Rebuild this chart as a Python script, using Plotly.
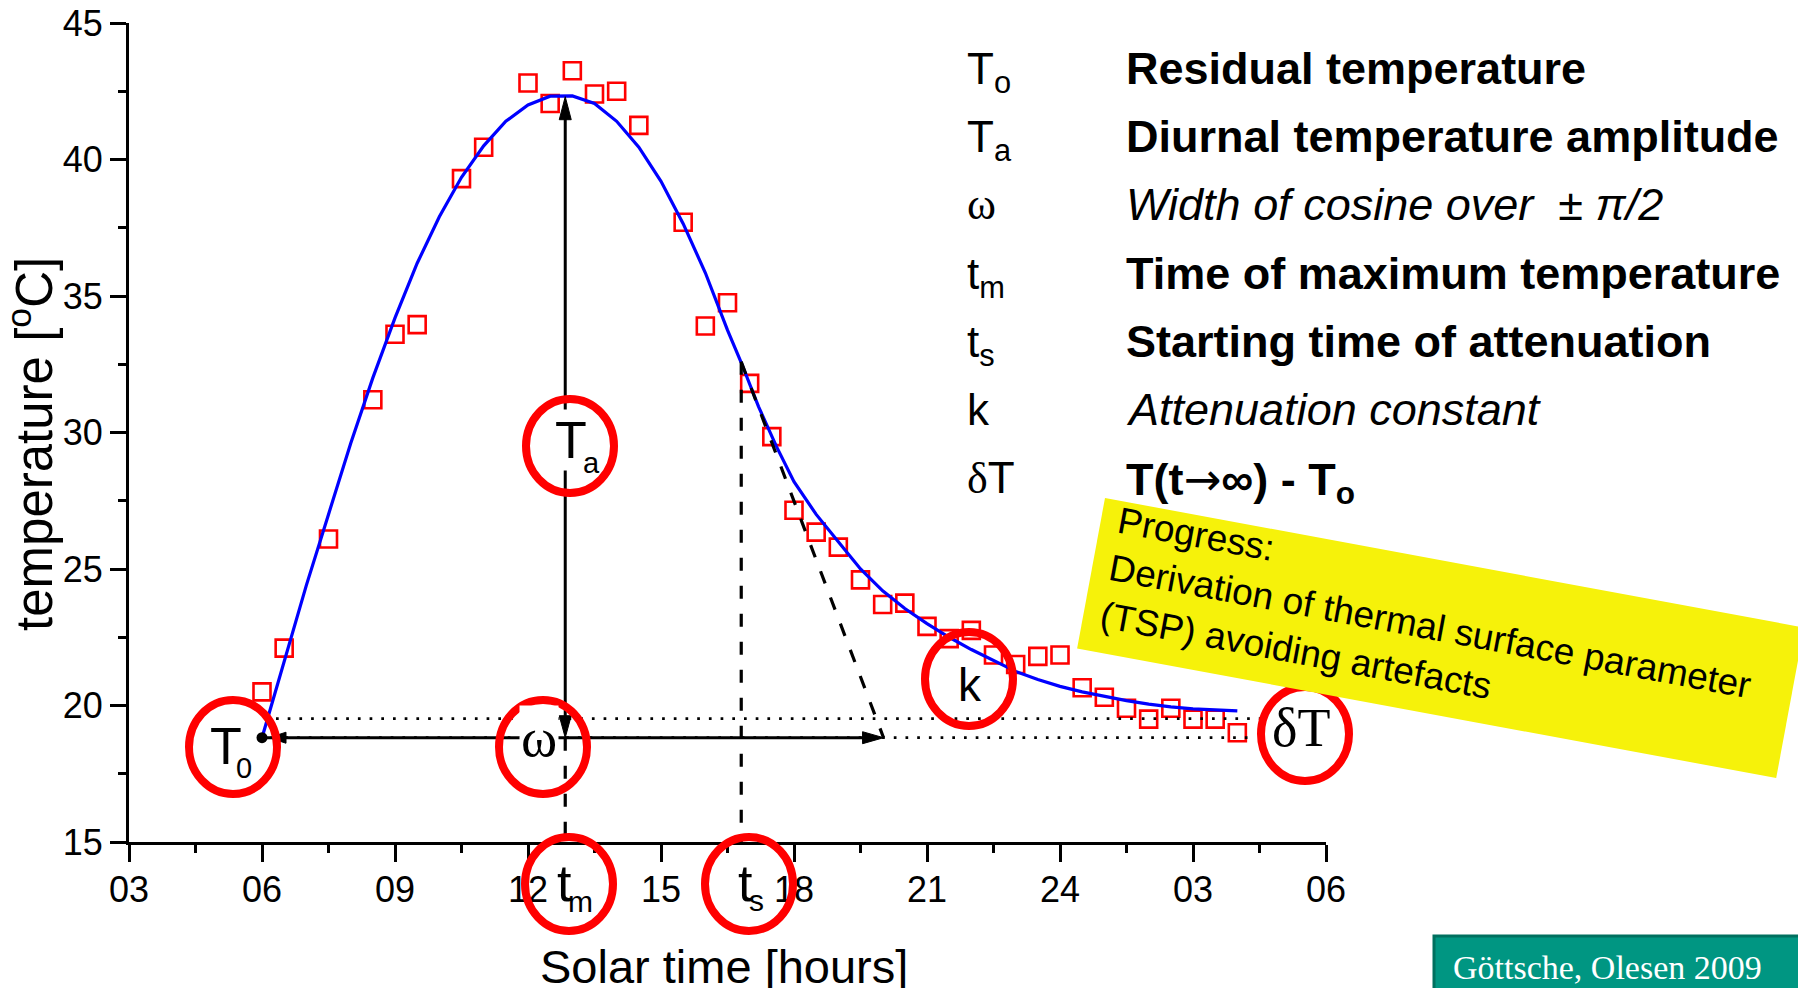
import math
import plotly.graph_objects as go

# ---------------- data ----------------
hours = [6.0, 6.5, 7.5, 8.5, 9.0, 9.5, 10.5, 11.0, 12.0, 12.5, 13.0, 13.5, 14.0, 14.5,
         15.5, 16.0, 16.5, 17.0, 17.5, 18.0, 18.5, 19.0, 19.5, 20.0, 20.5, 21.0, 21.5,
         22.0, 22.5, 23.0, 23.5, 24.0, 24.5, 25.0, 25.5, 26.0, 26.5, 27.0, 27.5, 28.0]
temps = [20.5, 22.1, 26.1, 31.2, 33.6, 33.95, 39.3, 40.45, 42.8, 42.05, 43.25, 42.4, 42.5, 41.25,
         37.7, 33.9, 34.75, 31.8, 29.85, 27.15, 26.35, 25.8, 24.6, 23.7, 23.75, 22.9, 22.45,
         22.75, 21.85, 21.5, 21.8, 21.85, 20.65, 20.3, 19.9, 19.5, 19.9, 19.5, 19.5, 19.0]

fit_hours = [6.0, 6.5, 7.0, 7.5, 8.0, 8.5, 9.0, 9.5, 10.0, 10.5, 11.0, 11.5, 12.0, 12.5,
             13.0, 13.5, 14.0, 14.5, 15.0, 15.5, 16.0, 16.5, 16.8, 17.2, 17.6, 18.0, 18.5,
             19.0, 19.5, 20.0, 20.5, 21.0, 21.5, 22.0, 22.5, 23.0, 23.5, 24.0, 24.5, 25.0,
             25.5, 26.0, 26.5, 27.0, 27.5, 28.0]
fit_temps = [18.82, 21.6, 24.4, 27.0, 29.6, 32.0, 34.2, 36.2, 37.9, 39.35, 40.5, 41.4, 42.0, 42.32,
             42.33, 42.05, 41.4, 40.45, 39.2, 37.65, 35.85, 33.75, 32.6, 30.95, 29.5, 28.2, 27.0,
             26.0, 25.0, 24.2, 23.55, 23.0, 22.5, 22.05, 21.65, 21.25, 20.95, 20.7, 20.5, 20.33,
             20.18, 20.05, 19.95, 19.88, 19.83, 19.8]

x_tick_vals = [3, 6, 9, 12, 15, 18, 21, 24, 27, 30]
x_tick_text = ['03', '06', '09', '12', '15', '18', '21', '24', '03', '06']
x_minor_vals = [4.5, 7.5, 10.5, 13.5, 16.5, 19.5, 22.5, 25.5, 28.5]
y_tick_vals = [15, 20, 25, 30, 35, 40, 45]
y_minor_vals = [17.5, 22.5, 27.5, 32.5, 37.5, 42.5]

# model parameters
T0 = 18.82          # residual temperature level
t_start = 6.0       # start of the cosine
t_max = 12.84       # time of maximum
T_max = 42.3        # maximum of fit
t_s = 16.81         # start of attenuation
T_ts = 32.59        # temperature at t_s
t_tan = 20.02       # end of tangent / omega arrow
dT_level = 19.52    # T(t->inf)
t_dot_hi = 28.58
t_dot_lo = 28.24

legend_symbols = ["T<sub>o</sub>", "T<sub>a</sub>",
                  "<span style='font-family:Liberation Serif'>\u03c9</span>",
                  "t<sub>m</sub>", "t<sub>s</sub>", "k",
                  "<span style='font-family:Liberation Serif'>\u03b4</span>T"]
legend_texts = ["<b>Residual temperature</b>",
                "<b>Diurnal temperature amplitude</b>",
                "<i>Width of cosine over \u00a0\u00b1 \u03c0/2</i>",
                "<b>Time of maximum temperature</b>",
                "<b>Starting time of attenuation</b>",
                "<i>Attenuation constant</i>",
                "<b>T(t</b><span style='font-family:DejaVu Sans'>\u2192</span><b>\u221e) - T<sub>o</sub></b>"]
box_text = "Progress:<br>Derivation of thermal surface parameter<br>(TSP) avoiding artefacts"
credit_text = "G\u00f6ttsche, Olesen 2009"

# ---------------- geometry ----------------
W, H = 1798, 988
L, R, T, B = 129, 472, 23, 146
PW = W - L - R
PH = H - T - B
X0, X1 = 3, 30
Y0, Y1 = 15, 45
SANS = "Liberation Sans, Arial, sans-serif"
SERIF = "Liberation Serif, Times New Roman, serif"


def xp(px):
    return (px - L) / PW


def yp(py):
    return (H - B - py) / PH


def dx(pix):
    return pix * (X1 - X0) / PW


def dy(pix):
    return pix * (Y1 - Y0) / PH


fig = go.Figure()
fig.add_trace(go.Scatter(x=hours, y=temps, mode='markers',
                         marker=dict(symbol='square-open', size=17, color='#FF0000',
                                     line=dict(width=2.6, color='#FF0000')),
                         hoverinfo='skip'))
fig.add_trace(go.Scatter(x=fit_hours, y=fit_temps, mode='lines',
                         line=dict(color='#0000FF', width=3.2), hoverinfo='skip'))
fig.add_trace(go.Scatter(x=[t_start], y=[T0], mode='markers',
                         marker=dict(size=11, color='black'), hoverinfo='skip'))

shapes = []
solid = dict(color='black', width=3)
dashed = dict(color='black', width=3.2, dash='13px,15px')
dotted = dict(color='black', width=2.7, dash='2.7px,9px')

# dotted levels
shapes.append(dict(type='line', x0=t_start + dx(14), x1=t_dot_hi, y0=dT_level, y1=dT_level, line=dotted))
shapes.append(dict(type='line', x0=t_start, x1=t_dot_lo, y0=T0, y1=T0, line=dotted))
# dashed lines
shapes.append(dict(type='line', x0=t_max, x1=t_max, y0=T0, y1=Y0, line=dashed))
shapes.append(dict(type='line', x0=t_s, x1=t_s, y0=T_ts, y1=Y0, line=dashed))
shapes.append(dict(type='line', x0=t_s, x1=t_tan, y0=T_ts, y1=T0, line=dashed))
# solid arrows
shapes.append(dict(type='line', x0=t_max, x1=t_max, y0=T0 + dy(16), y1=T_max - dy(16), line=solid))
shapes.append(dict(type='line', x0=t_start, x1=t_tan - dx(14), y0=T0, y1=T0, line=solid))


def tri(tip_x, tip_y, direction, length, half):
    if direction == 'up':
        pts = [(tip_x, tip_y), (tip_x - dx(half), tip_y - dy(length)), (tip_x + dx(half), tip_y - dy(length))]
    elif direction == 'down':
        pts = [(tip_x, tip_y), (tip_x - dx(half), tip_y + dy(length)), (tip_x + dx(half), tip_y + dy(length))]
    elif direction == 'right':
        pts = [(tip_x, tip_y), (tip_x - dx(length), tip_y + dy(half)), (tip_x - dx(length), tip_y - dy(half))]
    else:
        pts = [(tip_x, tip_y), (tip_x + dx(length), tip_y + dy(half)), (tip_x + dx(length), tip_y - dy(half))]
    path = 'M ' + ' L '.join(f'{a:.5f},{b:.5f}' for a, b in pts) + ' Z'
    return dict(type='path', path=path, fillcolor='black', line=dict(color='black', width=1))


shapes.append(tri(t_max, T_max, 'up', 23, 6))
shapes.append(tri(t_max, T0, 'down', 22, 6))
shapes.append(tri(t_tan, T0, 'right', 21, 6))
shapes.append(tri(t_start + dx(7), T0, 'left', 17, 5.5))

# red circles (pixel centres)
circles = [(233, 747), (543, 747), (570, 446), (569, 884), (749, 884), (969, 679), (1305, 734)]
cw, ch = 88, 94
for cx, cy in circles:
    shapes.append(dict(type='circle', xref='paper', yref='paper',
                       x0=xp(cx - cw / 2), x1=xp(cx + cw / 2), y0=yp(cy + ch / 2), y1=yp(cy - ch / 2),
                       line=dict(color='#FF0000', width=8)))

# yellow rotated box
th = math.radians(10.5)
ux, uy = math.cos(th), math.sin(th)
nx, ny = -math.sin(th), math.cos(th)
TLx, TLy = 1105, 498
bw, bh = 711, 153
corners = [(TLx, TLy), (TLx + bw * ux, TLy + bw * uy),
           (TLx + bw * ux + bh * nx, TLy + bw * uy + bh * ny), (TLx + bh * nx, TLy + bh * ny)]
ypath = 'M ' + ' L '.join(f'{xp(a):.5f},{yp(b):.5f}' for a, b in corners) + ' Z'
shapes.append(dict(type='path', xref='paper', yref='paper', path=ypath,
                   fillcolor='#F6F20A', line=dict(width=0)))

# credit box
shapes.append(dict(type='rect', xref='paper', yref='paper', x0=xp(1434), x1=xp(1812),
                   y0=yp(1000), y1=yp(936), fillcolor='#009682', line=dict(color='#00705F', width=3)))

ann = []


def label(text, x_px, base_px, size, family=SANS, anchor='center', color='black', bg=None, asc=0.905):
    d = dict(x=xp(x_px), y=yp(base_px - asc * size - 1), xref='paper', yref='paper', text=text,
             showarrow=False, xanchor=anchor, yanchor='top', borderpad=1,
             font=dict(family=family, size=size, color=color))
    if bg:
        d['bgcolor'] = bg
    return d


# circle labels
ann.append(label('T', 225.5, 763, 52))
ann.append(label('0', 234, 777, 29, anchor='left'))
ann.append(label('\u03c9', 538.5, 755, 55, family=SERIF, bg='white', asc=0.891))
ann.append(label('T', 571, 457, 52, bg='white'))
ann.append(label('a', 581, 472, 29, anchor='left'))
ann.append(label('t', 564, 900, 52))
ann.append(label('m', 566, 911, 30, anchor='left'))
ann.append(label('t', 745, 900, 52))
ann.append(label('s', 747, 910, 30, anchor='left'))
ann.append(label('k', 969.5, 700, 46))
ann.append(label('\u03b4T', 1301, 745, 54, family=SERIF, asc=0.891))

# legend table
for i, (s, t) in enumerate(zip(legend_symbols, legend_texts)):
    base = 82.5 + 68.3 * i
    ann.append(label(s, 965, base, 44, anchor='left'))
    ann.append(label(t, 1124, base, 45, anchor='left'))

# yellow box text
ann.append(dict(x=xp(1429.7), y=yp(626.6), xref='paper', yref='paper', text=box_text,
                showarrow=False, xanchor='center', yanchor='middle', align='left', textangle=10.5,
                borderpad=1, font=dict(family=SANS, size=37, color='black')))

# credit text
ann.append(label(credit_text, 1451, 978, 34, family=SERIF, anchor='left', color='white', asc=0.891))

# axis titles
ann.append(dict(x=xp(31), y=yp(444), xref='paper', yref='paper', text='temperature [<sup>o</sup>C]',
                showarrow=False, xanchor='center', yanchor='middle', textangle=-90,
                font=dict(family=SANS, size=51, color='black')))
ann.append(label('Solar time [hours]', 724, 982, 47))

fig.update_layout(
    width=W, height=H, autosize=False,
    margin=dict(l=L, r=R, t=T, b=B, pad=0, autoexpand=False),
    paper_bgcolor='white', plot_bgcolor='white', showlegend=False,
    shapes=shapes, annotations=ann,
    xaxis=dict(range=[X0, X1], tickvals=x_tick_vals, ticktext=x_tick_text, automargin=False,
               ticks='outside', ticklen=17, tickwidth=3, tickcolor='black', ticklabelstandoff=-3,
               showline=True, linewidth=3, linecolor='black', showgrid=False, zeroline=False,
               tickfont=dict(family=SANS, size=36, color='black'),
               minor=dict(tickvals=x_minor_vals, ticks='outside', ticklen=8, tickwidth=3,
                          tickcolor='black', showgrid=False)),
    yaxis=dict(range=[Y0, Y1], tickvals=y_tick_vals, automargin=False,
               ticks='outside', ticklen=16, tickwidth=3, tickcolor='black',
               showline=True, linewidth=3, linecolor='black', showgrid=False, zeroline=False,
               tickfont=dict(family=SANS, size=36, color='black'),
               minor=dict(tickvals=y_minor_vals, ticks='outside', ticklen=8, tickwidth=3,
                          tickcolor='black', showgrid=False)),
)

fig.write_html("out.html")
